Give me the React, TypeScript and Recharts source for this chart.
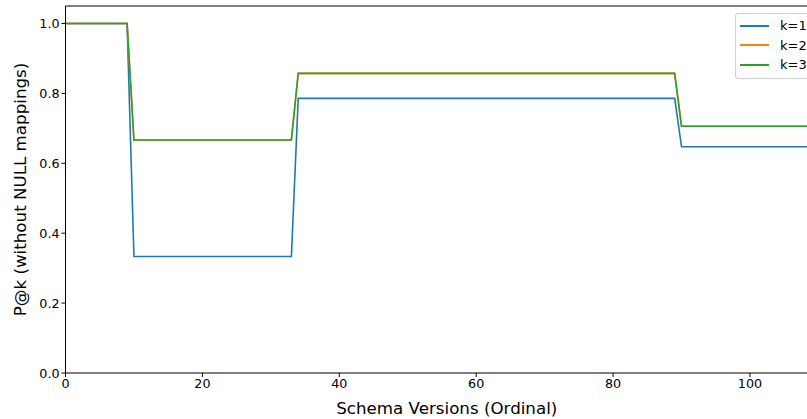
import React from "react";
import { LineChart, Line, XAxis, YAxis, ReferenceLine, Label } from "recharts";

const versions = [0, 9, 10, 33, 34, 89, 90, 112];
const k1 = [1.0, 1.0, 0.3333, 0.3333, 0.7857, 0.7857, 0.6471, 0.6471];
const k2 = [1.0, 1.0, 0.6667, 0.6667, 0.8571, 0.8571, 0.7059, 0.7059];
const k3 = [1.0, 1.0, 0.6667, 0.6667, 0.8571, 0.8571, 0.7059, 0.7059];
const xTicks = [0, 20, 40, 60, 80, 100];
const yTicks = [0, 0.2, 0.4, 0.6, 0.8, 1.0];
const seriesNames = ["k=1", "k=2", "k=3"];
const colors = ["#1f77b4", "#ff7f0e", "#2ca02c"];

const data = versions.map((v, i) => ({ v, k1: k1[i], k2: k2[i], k3: k3[i] }));

const FONT = "DejaVu Sans";

const LegendBox = () => (
  <div
    style={{
      position: "absolute",
      left: 735,
      top: 13,
      border: "1px solid #d0d0d0",
      borderRadius: 3,
      background: "rgba(255,255,255,0.8)",
      padding: "2px 0 3px 4px",
      width: 100,
      fontFamily: FONT,
      fontSize: 13,
      color: "#000",
      boxSizing: "border-box",
    }}
  >
    {seriesNames.map((n, i) => (
      <div key={n} style={{ display: "flex", alignItems: "center", height: 19.5 }}>
        <div style={{ width: 29, height: 1.6, background: colors[i], marginRight: 11 }} />
        <span>{n}</span>
      </div>
    ))}
  </div>
);

export default function App() {
  return (
    <div style={{ position: "absolute", left: 0, top: 0, width: 807, height: 419, overflow: "hidden", background: "#fff" }}>
      <LineChart width={828} height={419} data={data} margin={{ top: 6, right: 0, bottom: 0, left: 0 }}>
        <XAxis
          dataKey="v"
          type="number"
          domain={[0, 111.4]}
          allowDataOverflow
          ticks={xTicks}
          height={46}
          stroke="#000"
          tickSize={4}
          tick={{ fill: "#000", fontSize: 12.7, fontFamily: FONT }}
          tickMargin={2}
        >
          <Label
            value="Schema Versions (Ordinal)"
            position="insideBottom"
            offset={5}
            style={{ fill: "#000", fontSize: 16.7, fontFamily: FONT }}
          />
        </XAxis>
        <YAxis
          type="number"
          domain={[0, 1.05]}
          ticks={yTicks}
          width={65.5}
          stroke="#000"
          tickSize={4}
          tickFormatter={(t: number) => t.toFixed(1)}
          tick={{ fill: "#000", fontSize: 12.7, fontFamily: FONT }}
          tickMargin={2}
        >
          <Label
            value="P@k (without NULL mappings)"
            angle={-90}
            position="insideLeft"
            offset={20}
            style={{ fill: "#000", fontSize: 16.7, fontFamily: FONT, textAnchor: "middle" }}
          />
        </YAxis>
        <ReferenceLine y={1.05} stroke="#000" strokeWidth={1} />
        <Line type="linear" dataKey="k1" stroke={colors[0]} strokeWidth={1.6} dot={false} isAnimationActive={false} />
        <Line type="linear" dataKey="k2" stroke={colors[1]} strokeWidth={1.6} dot={false} isAnimationActive={false} />
        <Line type="linear" dataKey="k3" stroke={colors[2]} strokeWidth={1.6} dot={false} isAnimationActive={false} />
      </LineChart>
      <LegendBox />
    </div>
  );
}
